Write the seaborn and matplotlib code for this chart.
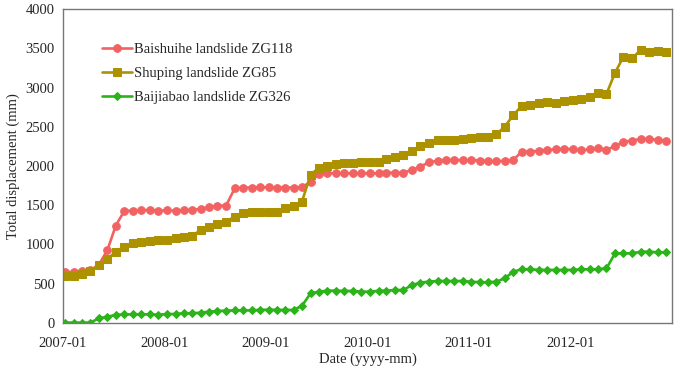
import pandas as pd
import seaborn as sns
import matplotlib.pyplot as plt
import matplotlib.dates as mdates

# monthly readings 2007-01 .. 2012-12 (mm)
baishuihe = [650, 650, 660, 670, 740, 930, 1240, 1430, 1430, 1435, 1440, 1430,
             1435, 1430, 1440, 1440, 1455, 1475, 1495, 1495, 1715, 1725, 1725, 1730,
             1728, 1725, 1725, 1725, 1728, 1800, 1898, 1907, 1907, 1907, 1907, 1907,
             1907, 1905, 1915, 1915, 1915, 1949, 1992, 2047, 2068, 2077, 2077, 2077,
             2077, 2070, 2064, 2064, 2064, 2077, 2183, 2183, 2196, 2205, 2213, 2221,
             2213, 2200, 2212, 2225, 2204, 2255, 2310, 2323, 2344, 2344, 2331, 2323]
shuping = [600, 600, 625, 667, 739, 811, 909, 972, 1015, 1036, 1049, 1057,
           1062, 1078, 1091, 1108, 1185, 1219, 1261, 1291, 1355, 1397, 1410, 1414,
           1415, 1418, 1461, 1490, 1545, 1886, 1979, 2000, 2025, 2043, 2043, 2047,
           2047, 2050, 2085, 2119, 2140, 2195, 2255, 2289, 2331, 2331, 2331, 2344,
           2352, 2366, 2374, 2404, 2501, 2650, 2765, 2777, 2807, 2820, 2807, 2832,
           2840, 2850, 2875, 2926, 2918, 3188, 3392, 3371, 3477, 3456, 3469, 3456]
baijiabao = [5, 5, 5, 5, 59, 80, 102, 110, 110, 110, 110, 106,
             112, 115, 123, 123, 132, 144, 153, 157, 161, 161, 161, 166,
             170, 166, 166, 166, 217, 378, 399, 412, 412, 408, 408, 399,
             399, 410, 412, 420, 420, 484, 514, 527, 535, 535, 535, 535,
             525, 520, 518, 527, 569, 654, 684, 684, 676, 676, 676, 676,
             676, 684, 684, 684, 696, 887, 887, 887, 908, 908, 900, 900]
labels = ["Baishuihe landslide ZG118", "Shuping landslide ZG85", "Baijiabao landslide ZG326"]
dates = pd.date_range("2007-01-01", periods=72, freq="MS") + pd.Timedelta(days=9)

sns.set_style("white")
plt.rcParams["font.family"] = ["Liberation Serif", "DejaVu Serif"]

fig = plt.figure(figsize=(6.75, 3.71), dpi=100)
ax = fig.add_axes([0.0933, 0.1294, 0.9023, 0.8463])

styles = [("#F26262", "o", 5.5), ("#AD9200", "s", 5.5), ("#2DB31A", "D", 4.0)]
for vals, lab, (col, mk, ms) in zip([baishuihe, shuping, baijiabao], labels, styles):
    sns.lineplot(x=dates, y=vals, ax=ax, color=col, marker=mk, markersize=ms,
                 markeredgecolor=col, linewidth=1.9, label=lab)

ax.set_xlim(pd.Timestamp("2007-01-01"), pd.Timestamp("2013-01-01"))
ax.set_ylim(0, 4000)
ax.set_yticks(range(0, 4001, 500))
ax.set_xticks(pd.date_range("2007-01-01", "2012-01-01", freq="YS"))
ax.xaxis.set_major_formatter(mdates.DateFormatter("%Y-%m"))
ax.tick_params(direction="in", length=4, labelsize=10.5, color="#555555")
ax.tick_params(axis="y", pad=6)
ax.tick_params(axis="x", pad=10)
for s in ax.spines.values():
    s.set_color("#777777")
    s.set_linewidth(1.0)

ax.set_xlabel("Date (yyyy-mm)", fontsize=10.5, labelpad=2)
ax.set_ylabel("Total displacement (mm)", fontsize=10.5)

ax.legend(loc="upper left", bbox_to_anchor=(0.042, 0.935), frameon=False, fontsize=10.5,
          handlelength=2.05, labelspacing=0.75, handletextpad=0.2)

fig.savefig("out.png", dpi=100)
